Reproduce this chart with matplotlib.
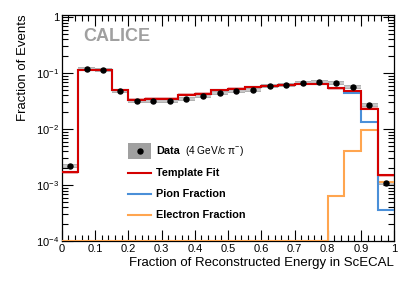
import numpy as np
import matplotlib
matplotlib.use('Agg')
import matplotlib.pyplot as plt
from matplotlib.ticker import FixedLocator, FuncFormatter, MultipleLocator, LogLocator, NullFormatter

plt.rcParams['font.family'] = ['Liberation Sans', 'DejaVu Sans']
plt.rcParams['mathtext.fontset'] = 'custom'
plt.rcParams['mathtext.rm'] = 'Liberation Sans'
plt.rcParams['mathtext.it'] = 'Liberation Sans:italic'

# bin edges (fraction of energy in ScECAL)
edges = np.linspace(0, 1, 21)

# data points
data = [2.2e-3, 0.121, 0.115, 0.0483, 0.032, 0.032, 0.032, 0.0352, 0.0389, 0.044,
        0.0478, 0.051, 0.0586, 0.0618, 0.0662, 0.069, 0.068, 0.057, 0.027, 1.09e-3]
# template fit
fit = [1.7e-3, 0.115, 0.115, 0.049, 0.0334, 0.0348, 0.0348, 0.041, 0.043, 0.050,
       0.0525, 0.056, 0.059, 0.062, 0.064, 0.065, 0.054, 0.048, 0.0233, 1.5e-3]
# pion fraction
pion = [1.7e-3, 0.115, 0.115, 0.049, 0.0334, 0.0348, 0.0348, 0.041, 0.043, 0.050,
        0.0525, 0.056, 0.059, 0.062, 0.064, 0.065, 0.0534, 0.044, 0.0135, 3.6e-4]
# electron fraction
electron = [0, 0, 0, 0, 0, 0, 0, 0, 0, 0,
            0, 0, 0, 0, 0, 0, 6.4e-4, 4.0e-3, 9.7e-3, 1.14e-3]

ymin, ymax = 1e-4, 1.11
data = np.array(data)
fit = np.array(fit)
pion = np.array(pion)
electron = np.array(electron)
centers = 0.5 * (edges[:-1] + edges[1:])

fig = plt.figure(figsize=(4.15, 2.81), dpi=100)
ax = fig.add_axes([0.149, 0.142, 0.801, 0.806])

# fit uncertainty band
ax.stairs(fit * 1.06, edges, baseline=fit * 0.94, fill=True, color='#f3b8b8', lw=0, zorder=1)
# data systematic boxes
for i in range(len(data)):
    ax.fill_between([edges[i], edges[i + 1]], data[i] * 0.92, data[i] * 1.08,
                    color='#b0b0b0', lw=0, zorder=2)
ax.errorbar(centers, data, xerr=0.025, fmt='none', ecolor='#c8c8c8', elinewidth=1.5, zorder=2)

ax.stairs(np.maximum(electron, 1.02e-4), edges, baseline=None, color='#ffa54f', lw=1.5, zorder=3)
ax.stairs(pion, edges, baseline=None, color='#4a8fd8', lw=1.5, zorder=4)
ax.stairs(fit, edges, baseline=None, color='#d40000', lw=1.5, zorder=5)
ax.plot(centers, data, 'o', color='black', ms=3.6, zorder=6)

ax.set_xlim(0, 1)
ax.set_yscale('log')
ax.set_ylim(ymin, ymax)

ax.xaxis.set_major_locator(MultipleLocator(0.1))
ax.xaxis.set_minor_locator(MultipleLocator(0.02))
ax.xaxis.set_major_formatter(FuncFormatter(lambda v, p: '0' if abs(v) < 1e-9 else ('1' if abs(v - 1) < 1e-9 else f'{v:.1f}')))
ax.yaxis.set_major_locator(FixedLocator([1e-4, 1e-3, 1e-2, 1e-1, 1]))
ax.yaxis.set_minor_locator(LogLocator(base=10, subs=np.arange(2, 10)))
ax.yaxis.set_minor_formatter(NullFormatter())
ax.yaxis.set_major_formatter(FuncFormatter(lambda v, p: '1' if v >= 0.99 else r'$10^{%d}$' % round(np.log10(v))))

ax.tick_params(which='both', direction='in', top=True, right=True, labelsize=8, width=0.8, pad=2)
ax.tick_params(which='major', length=8)
ax.tick_params(which='minor', length=4)
for s in ax.spines.values():
    s.set_linewidth(0.9)

ax.set_xlabel('Fraction of Reconstructed Energy in ScECAL', fontsize=9.5, loc='right', labelpad=2)
ax.set_ylabel('Fraction of Events', fontsize=9.5, loc='top', labelpad=5)

ax.text(0.063, 0.905, 'CALICE', transform=ax.transAxes, fontsize=13, fontweight='bold',
        color='#a0a0a0', va='center')

# legend
ly = [0.396, 0.302, 0.209, 0.116]
lx0, lx1, tx = 0.2, 0.268, 0.283
ax.add_patch(plt.Rectangle((lx0, ly[0] - 0.035), lx1 - lx0, 0.07, transform=ax.transAxes,
                           color='#a0a0a0', lw=0, zorder=7))
ax.plot([(lx0 + lx1) / 2], [ly[0]], 'o', color='black', ms=3.6, transform=ax.transAxes, zorder=8)
ax.text(tx, ly[0], 'Data', transform=ax.transAxes, fontsize=7.8, fontweight='bold', va='center')
ax.text(tx + 0.088, ly[0], '(4 GeV/c π$^{-}$)', transform=ax.transAxes, fontsize=7.3, va='center')
for y, c, lab in zip(ly[1:], ['#d40000', '#4a8fd8', '#ffa54f'],
                     ['Template Fit', 'Pion Fraction', 'Electron Fraction']):
    ax.plot([lx0, lx1], [y, y], color=c, lw=1.5, transform=ax.transAxes, zorder=8)
    ax.text(tx, y, lab, transform=ax.transAxes, fontsize=7.8, fontweight='bold', va='center')

fig.savefig('out.png', dpi=100)
